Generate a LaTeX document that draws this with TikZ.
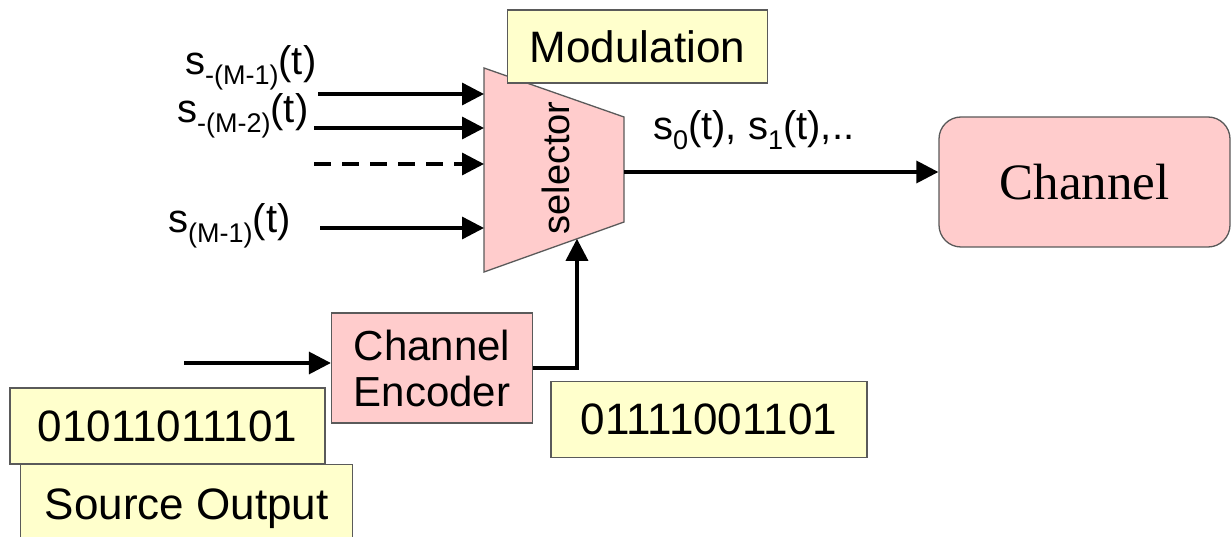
\documentclass[tikz,border=0pt]{standalone}
\usepackage{fontspec}
\setmainfont{Liberation Sans}
\newfontfamily\serifface{Liberation Serif}
\usetikzlibrary{arrows.meta,calc}

% lowered subscript in a smaller size
\newcommand{\lowsub}[1]{\raisebox{-10pt}{\fontsize{27}{27}\selectfont #1}}

\definecolor{notefill}{HTML}{FFFFCC}
\definecolor{blockfill}{HTML}{FFCCCC}
\definecolor{edgegray}{HTML}{5A5A5A}

\begin{document}
\begin{tikzpicture}[x=1pt,y=-1pt,
  note/.style={draw=edgegray,line width=1.3pt,fill=notefill,inner sep=0pt,
    font=\fontsize{44}{48}\selectfont},
  block/.style={draw=edgegray,line width=1.3pt,fill=blockfill,inner sep=0pt},
  sig/.style={line width=3.4pt,-{Triangle[length=22pt,width=22pt]}},
  lab/.style={anchor=base west,inner sep=0pt,font=\fontsize{40}{44}\selectfont}]

\useasboundingbox (0,0) rectangle (1232,537);
\fill[white] (0,0) rectangle (1232,537);

% selector trapezoid
\coordinate (tl) at (484,68);
\coordinate (tr) at (624,117);
\coordinate (br) at (624,222);
\coordinate (bl) at (484,272);
\path[block] (tl) -- (tr) -- (br) -- (bl) -- cycle;
\node[rotate=90,font=\fontsize{38}{40}\selectfont] (sel) at (556,168) {selector};

% modulation label
\node[note,minimum width=260pt,minimum height=73pt] (mod) at (637.5,46.5) {Modulation};

% input signals
\node[lab] (l1) at (185,75) {s\lowsub{-(M-1)}(t)};
\node[lab] (l2) at (177,123) {s\lowsub{-(M-2)}(t)};
\node[lab] (l4) at (168,233) {s\lowsub{(M-1)}(t)};

\coordinate (a1) at (318,94);  \coordinate (e1) at (484,94);
\coordinate (a2) at (314,128); \coordinate (e2) at (484,128);
\coordinate (a3) at (314,164); \coordinate (e3) at (484,164);
\coordinate (a4) at (320,228); \coordinate (e4) at (484,228);
\draw[sig] (a1) -- (e1);
\draw[sig] (a2) -- (e2);
\draw[sig,dash pattern=on 17pt off 11pt] (a3) -- (e3);
\draw[sig] (a4) -- (e4);

% channel
\node[block,rounded corners=22pt,minimum width=291pt,minimum height=130pt,
  font=\serifface\fontsize{51}{54}\selectfont] (chan) at (1084.5,182) {Channel};
\coordinate (out) at (624,172);
\draw[sig] (out) -- (out -| chan.west);
\node[lab] (lout) at (653,140) {s\lowsub{0}(t), s\lowsub{1}(t),..};

% channel encoder
\node[block,minimum width=201pt,minimum height=110pt,align=center,
  font=\fontsize{42}{46}\selectfont] (enc) at (432,368) {Channel\\Encoder};
\coordinate (src) at (184,363);
\draw[sig] (src) -- (src -| enc.west);
\coordinate (feedtip) at ($(bl)!0.664!(br)$);
\draw[sig] (enc.east) -- (feedtip |- enc.east) -- (feedtip);

% bit sequences
\node[note,minimum width=332pt,minimum height=96pt,anchor=north west,
  text depth=0pt] (srcname) at (20,464) {\raisebox{17pt}{Source Output}};
\node[note,minimum width=315pt,minimum height=76pt] (bits) at (167.5,426) {01011011101};
\node[note,minimum width=316pt,minimum height=76pt] (code) at (709,419.5) {01111001101};
\end{tikzpicture}
\end{document}
